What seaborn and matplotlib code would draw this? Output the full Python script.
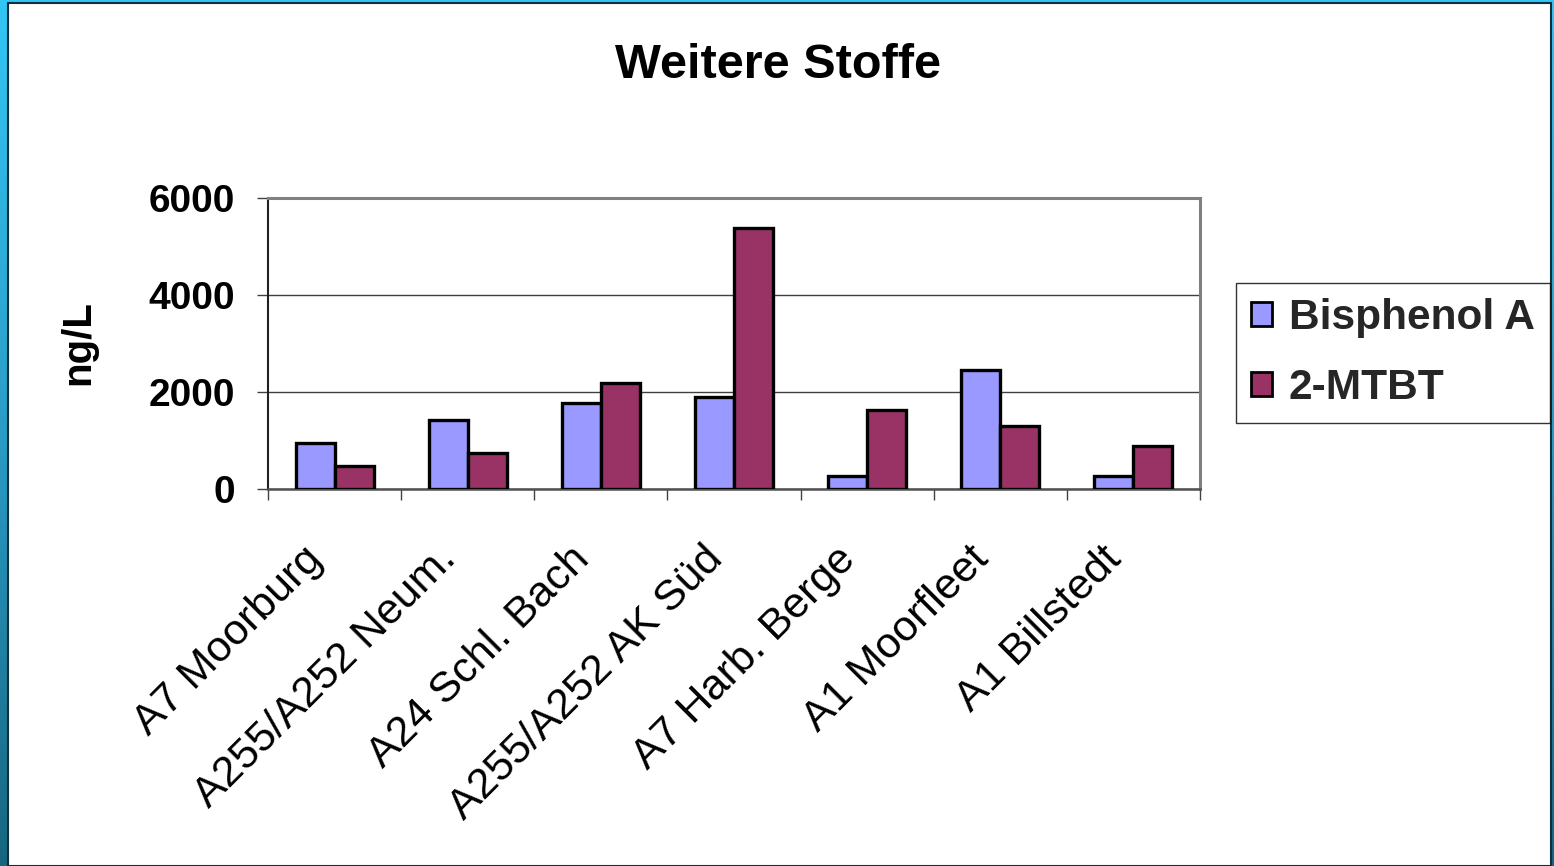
import numpy as np
import pandas as pd
import matplotlib
matplotlib.use("Agg")
import matplotlib.pyplot as plt
import matplotlib.patches as mpatches
from matplotlib.transforms import ScaledTranslation
import seaborn as sns

categories = ["A7 Moorburg", "A255/A252 Neum.", "A24 Schl. Bach", "A255/A252 AK Süd",
              "A7 Harb. Berge", "A1 Moorfleet", "A1 Billstedt"]
bisphenol_a = [950, 1430, 1770, 1900, 270, 2450, 270]
mtbt = [470, 745, 2185, 5390, 1635, 1295, 880]
series_names = ["Bisphenol A", "2-MTBT"]
series_colors = ["#9999FF", "#993366"]
y_ticks = [0, 2000, 4000, 6000]
title = "Weitere Stoffe"
y_label = "ng/L"

sns.set_theme(style="white")
plt.rcParams["font.family"] = ["Liberation Sans", "DejaVu Sans"]

W, H = 1554, 866
fig = plt.figure(figsize=(W / 100, H / 100), dpi=100)

# slide background gradient + white chart area
bg = fig.add_axes([0, 0, 1, 1], zorder=-10)
grad = np.linspace(0, 1, 256).reshape(-1, 1)
cmap = matplotlib.colors.LinearSegmentedColormap.from_list("bg", ["#33C6F4", "#2A9CC6", "#176680"])
bg.imshow(grad, aspect="auto", cmap=cmap, extent=[0, 1, 0, 1], origin="upper")
bg.add_patch(mpatches.Rectangle((8 / W, 0), (1551 - 8) / W, 1 - 3 / H,
                                facecolor="white", edgecolor="#0E2F3C", linewidth=1.5))
bg.set_xlim(0, 1)
bg.set_ylim(0, 1)
bg.axis("off")

df = pd.DataFrame({
    "Messstelle": categories * 2,
    "Stoff": [series_names[0]] * len(categories) + [series_names[1]] * len(categories),
    "Wert": bisphenol_a + mtbt,
})

ax = fig.add_axes([268 / W, 1 - 489 / H, (1200 - 268) / W, (489 - 198) / H])
sns.barplot(data=df, x="Messstelle", y="Wert", hue="Stoff", order=categories,
            hue_order=series_names, palette=series_colors, width=0.586,
            edgecolor="black", linewidth=2.4, saturation=1, ax=ax, legend=False, zorder=3)

ax.set_facecolor("white")
ax.set_xlim(-0.5, len(categories) - 0.5)
ax.set_ylim(0, 6000)
ax.set_yticks(y_ticks)
ax.set_yticklabels([str(v) for v in y_ticks], fontsize=28, fontweight="bold", color="black")
ax.yaxis.grid(True, color="#404040", linewidth=1.0)
ax.set_axisbelow(True)
ax.set_xlabel("")
ax.set_ylabel("")

# category boundaries as major ticks, labels on minor ticks
ax.set_xticks(np.arange(-0.5, len(categories), 1.0))
ax.set_xticklabels([])
ax.set_xticks(np.arange(len(categories)), minor=True)
ax.set_xticklabels(categories, minor=True, rotation=45, ha="right",
                   rotation_mode="anchor", fontsize=31, color="black")
ax.tick_params(axis="x", which="major", direction="out", length=8, width=1, color="#404040", bottom=True)
ax.tick_params(axis="x", which="minor", length=0, pad=36, bottom=True)
ax.tick_params(axis="y", which="major", direction="out", length=8, width=1, color="#404040", left=True, pad=16)
for lab in ax.get_xticklabels(minor=True):
    lab.set_transform(lab.get_transform() + ScaledTranslation(-32 / 100, 0, fig.dpi_scale_trans))

for side in ["top", "right"]:
    ax.spines[side].set_visible(True)
    ax.spines[side].set_color("#808080")
    ax.spines[side].set_linewidth(2.2)
ax.spines["left"].set_color("#202020")
ax.spines["left"].set_linewidth(1.5)
ax.spines["bottom"].set_color("#505050")
ax.spines["bottom"].set_linewidth(1.8)

handles = [mpatches.Patch(facecolor=c, edgecolor="black", linewidth=2, label=n)
           for n, c in zip(series_names, series_colors)]
leg = fig.legend(handles=handles, loc="center left",
                 bbox_to_anchor=(1236 / W, 1 - 353 / H), bbox_transform=fig.transFigure,
                 frameon=True, fancybox=False, edgecolor="black",
                 prop={"size": 30.5, "weight": "bold", "family": ["Liberation Sans"]},
                 handlelength=0.5, handleheight=0.5, handletextpad=0.4,
                 labelspacing=0.7, borderpad=0.35, borderaxespad=0)
leg.get_frame().set_linewidth(1.0)

fig.text(778 / W, 1 - 65 / H, title, ha="center", va="center",
         fontsize=35, fontweight="bold", color="black")
fig.text(78 / W, 1 - 343 / H, y_label, ha="center", va="center", rotation=90,
         fontsize=29, fontweight="bold", color="black")

fig.savefig("out.png", dpi=100)
